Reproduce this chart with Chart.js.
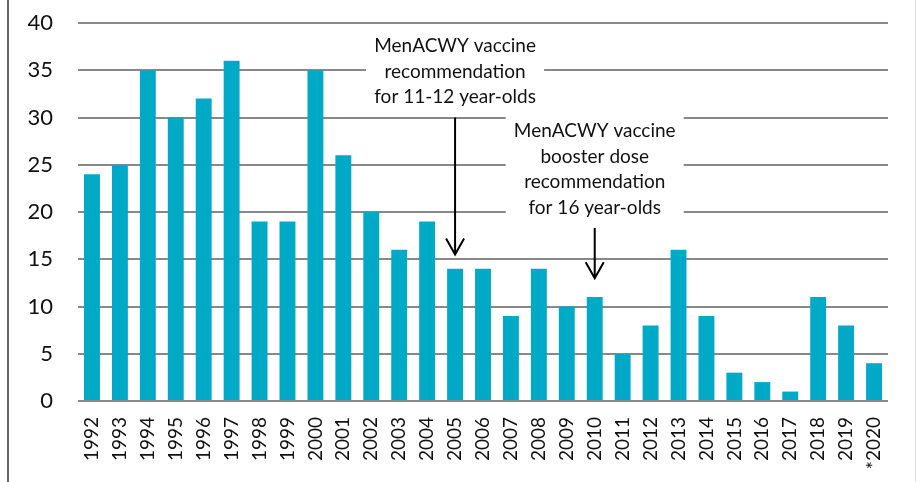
<!DOCTYPE html>
<html>
<head>
<meta charset="utf-8">
<script src="https://cdn.jsdelivr.net/npm/chart.js@4/dist/chart.umd.min.js"></script>
<style>
  html, body { margin: 0; padding: 0; background: #fff; }
  #wrap { position: relative; width: 916px; height: 482px; }
  #frameL { position: absolute; left: 7px; top: 0; width: 2px; height: 482px; background: #666; }
  #frameR { position: absolute; left: 915px; top: 0; width: 1px; height: 482px; background: #e4e4e4; }
  canvas { position: absolute; left: 0; top: 0; }
</style>
</head>
<body>
<div id="wrap">
  <canvas id="chart" width="916" height="482"></canvas>
  <div id="frameL"></div>
  <div id="frameR"></div>
</div>
<script>
const years = ['1992','1993','1994','1995','1996','1997','1998','1999','2000','2001',
  '2002','2003','2004','2005','2006','2007','2008','2009','2010','2011',
  '2012','2013','2014','2015','2016','2017','2018','2019','*2020'];
const cases = [24, 25, 35, 30, 32, 36, 19, 19, 35, 26,
  20, 16, 19, 14, 14, 9, 14, 10, 11, 5,
  8, 16, 9, 3, 2, 1, 11, 8, 4];
const yTicks = [0, 5, 10, 15, 20, 25, 30, 35, 40];

// annotation notes: which year they point to, text lines, value range of arrow
const notes = [
  { year: '2005', lines: ['MenACWY vaccine', 'recommendation', 'for 11-12 year-olds'],
    textTop: 37.55, arrowFrom: 30, arrowTo: 15.5, boxW: 178 },
  { year: '2010', lines: ['MenACWY vaccine', 'booster dose', 'recommendation', 'for 16 year-olds'],
    textTop: 28.55, arrowFrom: 18.3, arrowTo: 13.0, boxW: 178 }
];

const noteFont = '19px Lato, sans-serif';

const notesPlugin = {
  id: 'notes',
  afterDatasetsDraw(chart) {
    const { ctx, scales: { x, y } } = chart;
    ctx.save();
    notes.forEach(n => {
      const cx = x.getPixelForValue(years.indexOf(n.year));
      const top = y.getPixelForValue(n.textTop);
      const lh = 25.5;
      // white box behind text
      ctx.fillStyle = '#fff';
      ctx.fillRect(cx - n.boxW / 2, top - 16, n.boxW, lh * n.lines.length + 6);
      ctx.fillStyle = '#111';
      ctx.font = noteFont;
      ctx.textAlign = 'center';
      ctx.textBaseline = 'middle';
      n.lines.forEach((l, i) => ctx.fillText(l, cx, top + i * lh));
      // arrow
      const y0 = y.getPixelForValue(n.arrowFrom);
      const y1 = y.getPixelForValue(n.arrowTo);
      ctx.strokeStyle = '#000';
      ctx.lineWidth = 2;
      ctx.beginPath();
      ctx.moveTo(cx, y0);
      ctx.lineTo(cx, y1);
      ctx.moveTo(cx - 9, y1 - 16);
      ctx.lineTo(cx, y1);
      ctx.lineTo(cx + 9, y1 - 16);
      ctx.stroke();
    });
    ctx.restore();
  }
};

const noPad = s => { s.paddingTop = 0; s.paddingBottom = 0; s.paddingLeft = 0; s.paddingRight = 0; };

new Chart(document.getElementById('chart'), {
  type: 'bar',
  data: {
    labels: years,
    datasets: [{
      data: cases,
      backgroundColor: '#00aac7',
      categoryPercentage: 1,
      barPercentage: 0.57
    }]
  },
  options: {
    responsive: false,
    animation: false,
    devicePixelRatio: 1,
    layout: { padding: { top: 23, right: 28, left: 0, bottom: 0 } },
    plugins: { legend: { display: false }, tooltip: { enabled: false } },
    scales: {
      x: {
        grid: { display: false },
        border: { display: false },
        ticks: {
          color: '#111',
          font: { family: 'Lato, sans-serif', size: 19 },
          minRotation: 90, maxRotation: 90,
          padding: 8,
          autoSkip: false
        },
        afterFit: s => { s.height = 81; noPad(s); }
      },
      y: {
        min: 0, max: 40,
        afterBuildTicks: s => { s.ticks = yTicks.map(v => ({ value: v })); },
        grid: { color: '#888', lineWidth: 2, drawTicks: false },
        border: { display: false },
        ticks: {
          color: '#111',
          font: { family: 'Lato, sans-serif', size: 22 },
          padding: 25
        },
        afterFit: s => { s.width = 78; noPad(s); }
      }
    }
  },
  plugins: [notesPlugin]
});
</script>
</body>
</html>
